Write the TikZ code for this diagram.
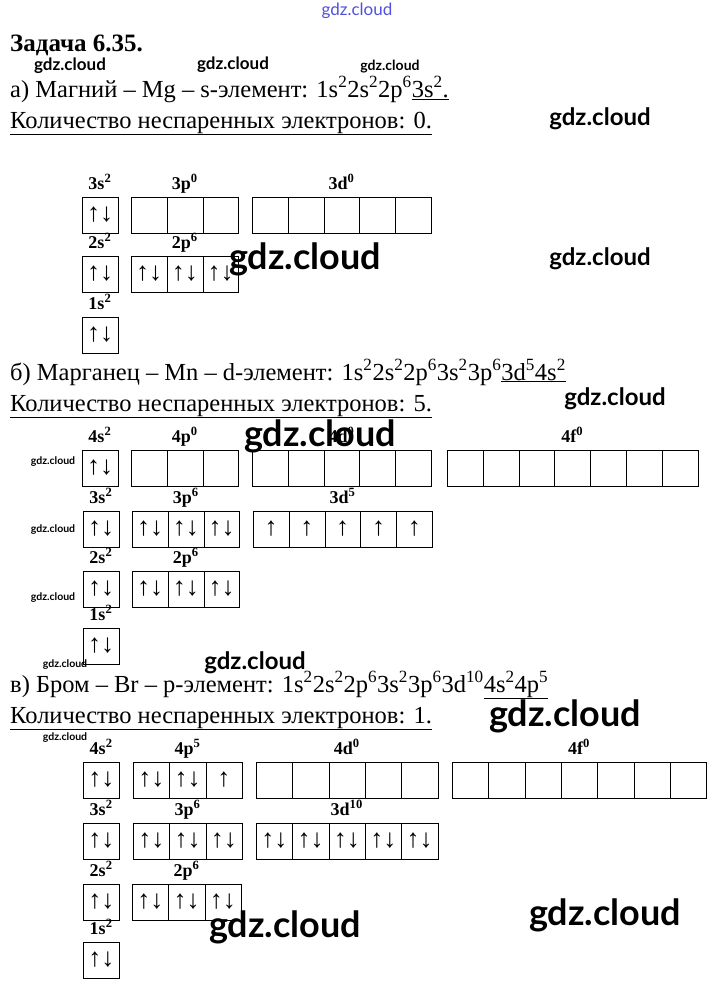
\documentclass[tikz,border=0pt]{standalone}
\usepackage{fontspec}
\setmainfont{Liberation Serif}
\newfontfamily\wmfont{Lato}
\usetikzlibrary{positioning}

\newcommand\ex[1]{\textsuperscript{#1}}
% p = paired pair, u = single electron, e = empty cell
\newcommand\spin[1]{\if p#1↑↓\else\if u#1↑\fi\fi}
\def\cw{35.8}
% x, y (top), number of cells, name, label, cell contents
\newcommand\orbs[6]{%
  \foreach \c [count=\i] in {#6} {
    \node[cell] (#4\i) at ({#1+(\i-1)*\cw}, #2) {\spin{\c}};
  }
  \node[lvl] (#4l) at ({#1+#3*\cw/2}, #2-8) {#5};
}

\tikzset{
  cell/.style={draw, rectangle, anchor=north west, minimum width=\cw pt, minimum height=35.5pt, inner sep=0pt, font=\fontsize{26}{26}\selectfont},
  lvl/.style={anchor=base, inner sep=0pt, font=\bfseries\fontsize{18}{18}\selectfont},
  txt/.style={anchor=base west, inner sep=0pt, font=\fontsize{24.5}{24.5}\selectfont},
  wm/.style={inner sep=0pt, font=\wmfont\bfseries\fontsize{#1}{#1}\selectfont},
}

\begin{document}
\begin{tikzpicture}[x=1pt, y=-1pt]
    \useasboundingbox (0,0) rectangle (714,990);

    % a) magnesium
    \node [txt, font=\bfseries\fontsize{25}{25}\selectfont] (title) at (10,52) {Задача 6.35.};
    \node [txt] (aline) at (10,97) {а) Магний – Mg – s-элемент: 1s\ex{2}2s\ex{2}2p\ex{6}\underline{3s\ex{2}.}};
    \node [txt] (acount) at (10,128) {\underline{Количество неспаренных электронов: 0.}};
    \orbs{82}{197}{1}{a3s}{3s\ex{2}}{p}
    \orbs{131}{197}{3}{a3p}{3p\ex{0}}{e,e,e}
    \orbs{252}{197}{5}{a3d}{3d\ex{0}}{e,e,e,e,e}
    \orbs{82}{256}{1}{a2s}{2s\ex{2}}{p}
    \orbs{131}{256}{3}{a2p}{2p\ex{6}}{p,p,p}
    \orbs{82}{317}{1}{a1s}{1s\ex{2}}{p}

    % b) manganese
    \node [txt] (bline) at (10,380) {б) Марганец – Mn – d-элемент: 1s\ex{2}2s\ex{2}2p\ex{6}3s\ex{2}3p\ex{6}\underline{3d\ex{5}4s\ex{2}}};
    \node [txt] (bcount) at (10,411) {\underline{Количество неспаренных электронов: 5.}};
    \orbs{82}{450}{1}{b4s}{4s\ex{2}}{p}
    \orbs{131}{450}{3}{b4p}{4p\ex{0}}{e,e,e}
    \orbs{252}{450}{5}{b4d}{4d\ex{0}}{e,e,e,e,e}
    \orbs{447}{450}{7}{b4f}{4f\ex{0}}{e,e,e,e,e,e,e}
    \orbs{83}{511}{1}{b3s}{3s\ex{2}}{p}
    \orbs{132}{511}{3}{b3p}{3p\ex{6}}{p,p,p}
    \orbs{253}{511}{5}{b3d}{3d\ex{5}}{u,u,u,u,u}
    \orbs{83}{571}{1}{b2s}{2s\ex{2}}{p}
    \orbs{132}{571}{3}{b2p}{2p\ex{6}}{p,p,p}
    \orbs{83}{628}{1}{b1s}{1s\ex{2}}{p}

    % c) bromine
    \def\cw{36.3}
    \node [txt] (cline) at (10,692) {в) Бром – Br – p-элемент: 1s\ex{2}2s\ex{2}2p\ex{6}3s\ex{2}3p\ex{6}3d\ex{10}\underline{4s\ex{2}4p\ex{5}}};
    \node [txt] (ccount) at (10,723) {\underline{Количество неспаренных электронов: 1.}};
    \orbs{83}{762}{1}{c4s}{4s\ex{2}}{p}
    \orbs{133}{762}{3}{c4p}{4p\ex{5}}{p,p,u}
    \orbs{256}{762}{5}{c4d}{4d\ex{0}}{e,e,e,e,e}
    \orbs{452}{762}{7}{c4f}{4f\ex{0}}{e,e,e,e,e,e,e}
    \orbs{83}{823}{1}{c3s}{3s\ex{2}}{p}
    \orbs{133}{823}{3}{c3p}{3p\ex{6}}{p,p,p}
    \orbs{256}{823}{5}{c3d}{3d\ex{10}}{p,p,p,p,p}
    \orbs{83}{884}{1}{c2s}{2s\ex{2}}{p}
    \orbs{132}{884}{3}{c2p}{2p\ex{6}}{p,p,p}
    \orbs{83}{942}{1}{c1s}{1s\ex{2}}{p}

    % watermarks
    \node [inner sep=0pt, text={rgb,255:red,80;green,80;blue,220}, font=\wmfont\fontsize{17}{17}\selectfont] (wm0) at (357,11) {gdz.cloud};
    \node [wm=17] (wm1) at (70,66) {gdz.cloud};
    \node [wm=17] (wm2) at (233,65) {gdz.cloud};
    \node [wm=14] (wm3) at (390,67) {gdz.cloud};
    \node [wm=24] (wm4) at (600,119) {gdz.cloud};
    \node [wm=24] (wm5) at (600,259) {gdz.cloud};
    \node [wm=36] (wm6) at (305,259) {gdz.cloud};
    \node [wm=24] (wm7) at (615,399) {gdz.cloud};
    \node [wm=36] (wm8) at (320,436) {gdz.cloud};
    \node [wm=10.5] (wm9) at (53,462) {gdz.cloud};
    \node [wm=10.5] (wm10) at (53,530) {gdz.cloud};
    \node [wm=10.5] (wm11) at (53,598) {gdz.cloud};
    \node [wm=10.5] (wm12) at (65,665) {gdz.cloud};
    \node [wm=24] (wm13) at (255,663) {gdz.cloud};
    \node [wm=36] (wm14) at (565,716) {gdz.cloud};
    \node [wm=10.5] (wm15) at (65,738) {gdz.cloud};
    \node [wm=36] (wm16) at (285,927) {gdz.cloud};
    \node [wm=36] (wm17) at (605,915) {gdz.cloud};
\end{tikzpicture}
\end{document}
